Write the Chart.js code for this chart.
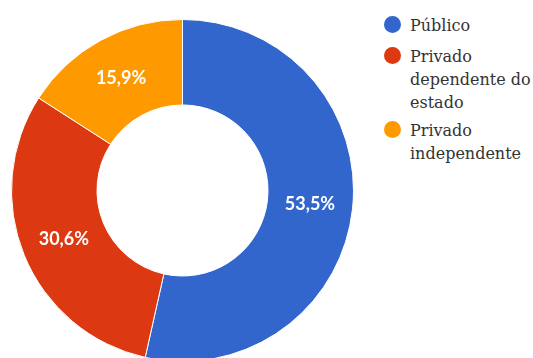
<!DOCTYPE html>
<html>
<head>
<meta charset="utf-8">
<script src="https://cdn.jsdelivr.net/npm/chart.js@4/dist/chart.umd.min.js"></script>
<style>
  html, body { margin: 0; padding: 0; background: #fff; overflow: hidden; }
  body { width: 533px; height: 358px; position: relative; }
  #chart-box { position: absolute; left: 11px; top: 19px; width: 343px; height: 343px; }
  #legend { position: absolute; left: 0; top: 0; }
  .item { position: absolute; left: 410px; font-family: "DejaVu Serif", serif; font-size: 16px; line-height: 23px; color: #333; white-space: nowrap; }
  .dot { position: absolute; left: -26px; top: 2px; width: 17px; height: 17px; border-radius: 50%; }
</style>
</head>
<body>
<div id="chart-box"><canvas id="pie" width="343" height="343"></canvas></div>
<div id="legend"></div>
<script>
// Rede de ensino: parcela de alunos por tipo
const labels = ['Público', 'Privado dependente do estado', 'Privado independente'];
const legendLines = [['Público'], ['Privado', 'dependente do', 'estado'], ['Privado', 'independente']];
const values = [53.5, 30.6, 15.9];
const colors = ['#3366CC', '#DC3912', '#FF9900'];
const legendTops = [14, 45, 119];

// legenda em HTML, texto com quebra de linha
const legend = document.getElementById('legend');
legendLines.forEach((lines, i) => {
  const item = document.createElement('div');
  item.className = 'item';
  item.style.top = legendTops[i] + 'px';
  item.innerHTML = '<span class="dot" style="background:' + colors[i] + '"></span>' + lines.join('<br>');
  legend.appendChild(item);
});

// rótulos de percentagem no meio de cada fatia
const sliceLabels = {
  id: 'sliceLabels',
  afterDatasetsDraw(chart) {
    const ctx = chart.ctx;
    const meta = chart.getDatasetMeta(0);
    ctx.save();
    ctx.font = 'bold 18px Lato';
    ctx.fillStyle = '#fff';
    ctx.textAlign = 'center';
    ctx.textBaseline = 'middle';
    meta.data.forEach((arc, i) => {
      const p = arc.tooltipPosition();
      const txt = values[i].toFixed(1).replace('.', ',') + '%';
      ctx.fillText(txt, p.x, p.y);
    });
    ctx.restore();
  }
};

new Chart(document.getElementById('pie'), {
  type: 'doughnut',
  data: {
    labels: labels,
    datasets: [{
      data: values,
      backgroundColor: colors,
      borderColor: '#fff',
      borderWidth: 1
    }]
  },
  options: {
    responsive: false,
    animation: false,
    cutout: '50%',
    layout: { padding: 0 },
    plugins: {
      legend: { display: false },
      tooltip: { enabled: false }
    }
  },
  plugins: [sliceLabels]
});
</script>
</body>
</html>
